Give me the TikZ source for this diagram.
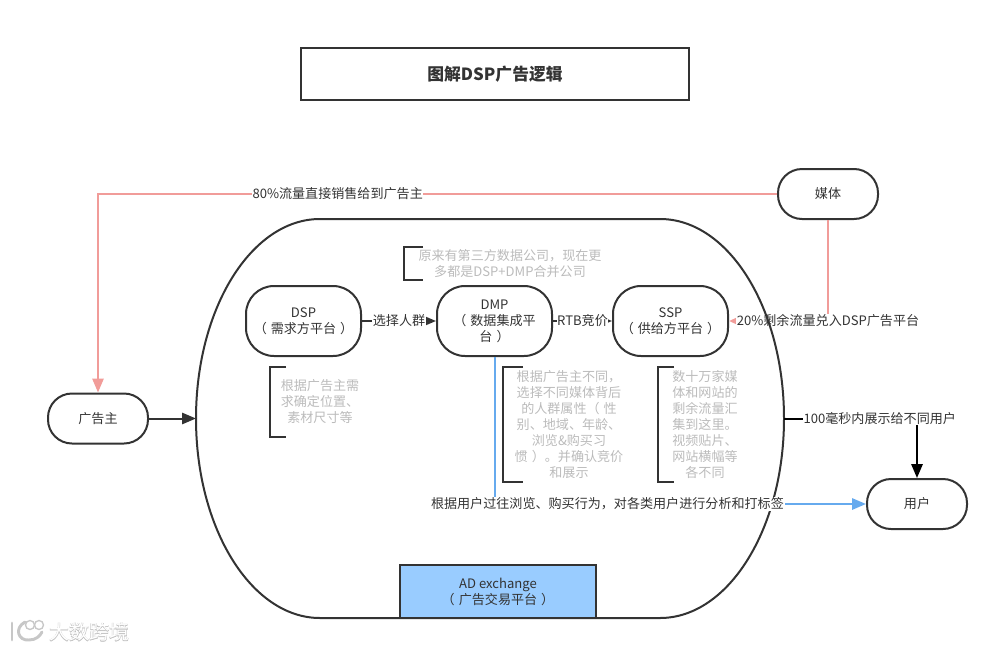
\documentclass[tikz,border=0pt]{standalone}
\usepackage{fontspec}
\setmainfont{Noto Sans CJK SC}
\usetikzlibrary{arrows.meta}
\definecolor{inkgray}{HTML}{333333}
\definecolor{notegray}{HTML}{BBBBBB}
\definecolor{flowpink}{HTML}{F19C99}
\definecolor{flowblue}{HTML}{66AAEE}
\definecolor{poolblue}{HTML}{99CCFF}
\tikzset{
  party/.style={draw=inkgray,line width=1.5pt,rounded corners=18pt,minimum width=75pt,minimum height=37.5pt,inner sep=0pt,align=center,font=\fontsize{9.8}{12}\selectfont,text=inkgray},
  platform/.style={party,rounded corners=21pt,minimum width=86.25pt,minimum height=52.5pt},
  flat/.style={draw=inkgray,line width=1.5pt,inner sep=0pt,align=center,text=inkgray},
  flowlabel/.style={fill=white,inner sep=0.5pt,font=\fontsize{9.8}{12}\selectfont,text=inkgray},
  note/.style={inner sep=0pt,align=center,font=\fontsize{9.8}{12}\selectfont,text=notegray},
  bracket/.style={draw=inkgray,line width=1.5pt},
  flow/.style={line width=1.5pt,-{Triangle[length=10.5pt,width=8.5pt]}}
}
\begin{document}
\begin{tikzpicture}[x=0.75pt,y=-0.75pt]
\useasboundingbox (0,0) rectangle (999,650);
\node[flat,minimum width=291pt,minimum height=39pt,font=\fontsize{12.6}{14}\selectfont\bfseries] (title) at (495,74) {图解DSP广告逻辑};
\node[party] (media) at (828,194) {媒体};
\node[party] (advertiser) at (98,418.5) {广告主};
\node[party] (user) at (917,504) {用户};
\node[platform] (dsp) at (303.5,321) {DSP\\（\kern3pt需求方平台\kern3pt）};
\node[platform] (dmp) at (494.5,321) {DMP\\（\kern3pt数据集成平\\台\kern3pt）};
\node[platform] (ssp) at (670.5,321) {SSP\\（\kern3pt供给方平台\kern3pt）};
\node[flat,fill=poolblue,minimum width=147pt,minimum height=39.75pt,font=\fontsize{9.8}{12}\selectfont] (exchange) at (498,591.5) {AD exchange\\（\kern3pt广告交易平台\kern3pt）};
\draw[flow,draw=flowpink] (media.west) -| node[flowlabel,pos=0.3235] {80\%流量直接销售给到广告主} (advertiser.north);
\draw[flow,draw=flowpink,-{Triangle[length=6pt,width=5pt]}] (media.south) |- node[flowlabel,pos=0.5] {20\%剩余流量兑入DSP广告平台} (ssp.east);
\draw[inkgray,line width=1.5pt] (320,219) -- (660,219) arc[start angle=-90,end angle=90,x radius=124,y radius=199.5] -- (320,618) arc[start angle=90,end angle=270,x radius=124,y radius=199.5] -- cycle;
\coordinate (poolwest) at (196,418.5);
\coordinate (pooleast) at (784,418.5);
\draw[flow,draw=inkgray] (advertiser.east) -- (poolwest);
\draw[flow,draw=inkgray] (dsp.east) -- node[flowlabel] {选择人群} (dmp.west);
\draw[flow,draw=inkgray] (dmp.east) -- node[flowlabel] {RTB竞价} (ssp.west);
\draw[flow,draw=black] (pooleast) -| node[flowlabel,pos=0.36] {100毫秒内展示给不同用户} (user.north);
\draw[flow,draw=flowblue] (dmp.south) |- node[flowlabel,pos=0.652] {根据用户过往浏览、购买行为，对各类用户进行分析和打标签} (user.west);
\draw[bracket] (423,247) -- (404,247) -- (404,280) -- (423,280);
\node[note] (notedmp) at (510,263.5) {原来有第三方数据公司，现在更\\多都是DSP+DMP合并公司};
\draw[bracket] (286,367) -- (270,367) -- (270,437) -- (286,437);
\node[note] (notedsp) at (320,402) {根据广告主需\\求确定位置、\\素材尺寸等};
\draw[bracket] (523,367) -- (503,367) -- (503,482) -- (523,482);
\node[note] (notecrowd) at (569,425) {根据广告主不同，\\选择不同媒体背后\\的人群属性（\kern3pt性\\别、地域、年龄、\\浏览\&购买习\\惯\kern3pt）。并确认竞价\\和展示};
\draw[bracket] (674,367) -- (658,367) -- (658,482) -- (674,482);
\node[note] (notessp) at (705,425) {数十万家媒\\体和网站的\\剩余流量汇\\集到这里。\\视频贴片、\\网站横幅等\\各不同};
\draw[black!22,line width=2.2pt,line cap=round] (12,623) -- (12,640);
\draw[black!22,line width=2.2pt,line cap=round] (25,622) .. controls (14,628) and (18,641) .. (29,640) .. controls (36,640) and (40,636) .. (42,632);
\draw[black!22,line width=1pt] (30,625) circle (4.5);
\draw[black!22,line width=1pt] (39,625) circle (4.5);
\node[inner sep=0pt,text=black!25,font=\fontsize{15}{15}\selectfont\addfontfeature{FakeBold=3}] (markshade) at (89,632) {大数跨境};
\node[inner sep=0pt,text=white,font=\fontsize{15}{15}\selectfont] (mark) at (89,632) {大数跨境};
\end{tikzpicture}
\end{document}
